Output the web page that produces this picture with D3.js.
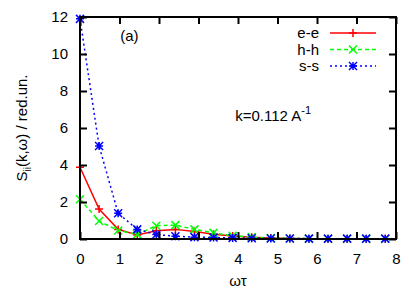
<!DOCTYPE html>
<html>
<head>
<meta charset="utf-8">
<script src="https://cdn.jsdelivr.net/npm/d3@7"></script>
<style>
  body { margin: 0; background: #fff; }
  text { font-family: "Liberation Sans", Arial, sans-serif; }
</style>
</head>
<body>
<svg id="chart" width="409" height="292"></svg>
<script>
// omega*tau sample points
const omegaTau = [0, 0.483, 0.966, 1.449, 1.932, 2.415, 2.898, 3.381, 3.864, 4.347, 4.83, 5.313, 5.796, 6.279, 6.762, 7.245, 7.728];
const ee = [3.88, 1.62, 0.52, 0.22, 0.45, 0.52, 0.4, 0.26, 0.16, 0.09, 0.05, 0.03, 0.02, 0.015, 0.01, 0.01, 0.01];
const hh = [2.15, 0.97, 0.46, 0.25, 0.72, 0.75, 0.52, 0.33, 0.18, 0.1, 0.05, 0.03, 0.02, 0.015, 0.01, 0.01, 0.01];
const ss = [11.9, 5.03, 1.39, 0.52, 0.24, 0.15, 0.1, 0.08, 0.06, 0.04, 0.03, 0.03, 0.02, 0.02, 0.02, 0.02, 0.02];
const xTicks = [0, 1, 2, 3, 4, 5, 6, 7, 8];
const yTicks = [0, 2, 4, 6, 8, 10, 12];

const series = [
  { name: 'e-e', values: ee, color: '#ff0000', dash: null, marker: 'plus' },
  { name: 'h-h', values: hh, color: '#00ff00', dash: '4,3', marker: 'cross' },
  { name: 's-s', values: ss, color: '#0000ff', dash: '2,3', marker: 'star' }
];

const svg = d3.select('#chart');
const margin = { top: 17, right: 13, bottom: 53, left: 80 };
const width = 409 - margin.left - margin.right;
const height = 292 - margin.top - margin.bottom;
const fs = 15;

const g = svg.append('g').attr('transform', 'translate(' + margin.left + ',' + margin.top + ')');

const x = d3.scaleLinear().domain([0, 8]).range([0, width]);
const y = d3.scaleLinear().domain([0, 12]).range([height, 0]);

function marker(sel, type, cx, cy, color) {
  const s = 4;
  let d = '';
  if (type === 'plus' || type === 'star') d += 'M' + (cx - s) + ',' + cy + 'H' + (cx + s) + 'M' + cx + ',' + (cy - s) + 'V' + (cy + s);
  if (type === 'cross' || type === 'star') d += 'M' + (cx - s) + ',' + (cy - s) + 'L' + (cx + s) + ',' + (cy + s) + 'M' + (cx - s) + ',' + (cy + s) + 'L' + (cx + s) + ',' + (cy - s);
  sel.append('path').attr('d', d).attr('stroke', color).attr('stroke-width', 1.5).attr('fill', 'none');
}

// lines
const line = d3.line().x((d, i) => x(omegaTau[i])).y(d => y(d));
series.forEach(s => {
  g.append('path')
    .datum(s.values)
    .attr('fill', 'none')
    .attr('stroke', s.color)
    .attr('stroke-width', 1.5)
    .attr('stroke-dasharray', s.dash)
    .attr('d', line);
  s.values.forEach((v, i) => marker(g, s.marker, x(omegaTau[i]), y(v), s.color));
});

// axes with inward ticks, mirrored
const tl = 7;
g.append('g')
  .attr('transform', 'translate(0,' + height + ')')
  .call(d3.axisBottom(x).tickValues(xTicks).tickSizeInner(-tl).tickSizeOuter(0).tickPadding(tl + 7));
g.append('g')
  .call(d3.axisTop(x).tickValues(xTicks).tickSizeInner(-tl).tickSizeOuter(0).tickFormat(''));
g.append('g')
  .call(d3.axisLeft(y).tickValues(yTicks).tickSizeInner(-tl).tickSizeOuter(0).tickPadding(tl + 5));
g.append('g')
  .attr('transform', 'translate(' + width + ',0)')
  .call(d3.axisRight(y).tickValues(yTicks).tickSizeInner(-tl).tickSizeOuter(0).tickFormat(''));

g.selectAll('.domain').remove();
g.selectAll('.tick line').attr('stroke', '#000').attr('stroke-width', 2);
g.selectAll('.tick text').attr('font-size', fs).attr('fill', '#000')
  .attr('font-family', '"Liberation Sans", Arial, sans-serif');

g.append('rect')
  .attr('width', width).attr('height', height)
  .attr('fill', 'none').attr('stroke', '#000').attr('stroke-width', 2);

// labels
svg.append('text')
  .attr('x', margin.left + width / 2).attr('y', 286)
  .attr('text-anchor', 'middle').attr('font-size', fs)
  .text('ωτ');

const yl = svg.append('text')
  .attr('transform', 'translate(27,' + (margin.top + height / 2) + ') rotate(-90)')
  .attr('text-anchor', 'middle').attr('font-size', fs);
yl.append('tspan').text('S');
yl.append('tspan').attr('font-size', 10).attr('dy', 4).text('ii');
yl.append('tspan').attr('dy', -4).text('(k,ω) / red.un.');

g.append('text')
  .attr('x', x(1.25)).attr('y', 24)
  .attr('text-anchor', 'middle').attr('font-size', fs)
  .text('(a)');

const kt = g.append('text')
  .attr('x', x(3.93)).attr('y', 104)
  .attr('font-size', fs);
kt.append('tspan').text('k=0.112 A');
kt.append('tspan').attr('font-size', 11).attr('dy', -7).text('-1');

// legend
series.forEach((s, i) => {
  const ly = 16 + i * 16.5;
  g.append('text')
    .attr('x', 239).attr('y', ly + 5)
    .attr('text-anchor', 'end').attr('font-size', fs)
    .text(s.name);
  g.append('line')
    .attr('x1', 250).attr('x2', 296).attr('y1', ly).attr('y2', ly)
    .attr('stroke', s.color).attr('stroke-width', 1.5)
    .attr('stroke-dasharray', s.dash);
  marker(g, s.marker, 273, ly, s.color);
});
</script>
</body>
</html>
